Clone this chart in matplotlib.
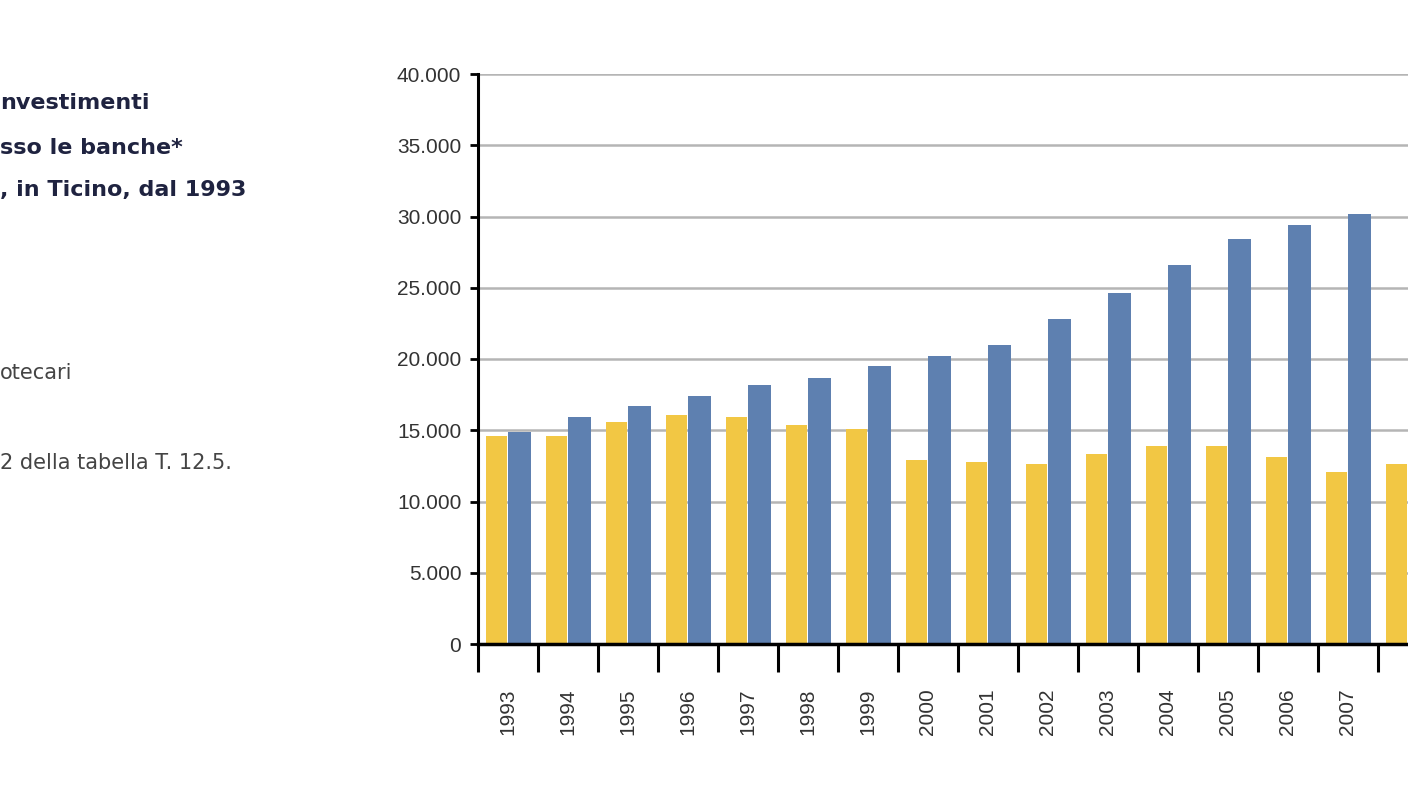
import numpy as np
import matplotlib.pyplot as plt

years = [str(y) for y in range(1993, 2009)]
ipotecari = [14600, 14600, 15600, 16100, 15900, 15400, 15100, 12900,
             12800, 12600, 13300, 13900, 13900, 13100, 12100, 12600]
investimenti = [14900, 15900, 16700, 17400, 18200, 18700, 19500, 20200,
                21000, 22800, 24600, 26600, 28400, 29400, 30200, 31000]
yticks = [0, 5000, 10000, 15000, 20000, 25000, 30000, 35000, 40000]
ylabels = ["0", "5.000", "10.000", "15.000", "20.000", "25.000",
           "30.000", "35.000", "40.000"]

W, H = 1408, 792
fig = plt.figure(figsize=(W / 100, H / 100), dpi=100)
ax = fig.add_axes([478 / W, 1 - 644 / H, (W - 478) / W, (644 - 74) / H])

x = np.arange(len(years))
ax.bar(x - 0.19, ipotecari, width=0.36, color="#F2C744")
ax.bar(x + 0.19, investimenti, width=0.38, color="#5E80B0")

ax.set_xlim(-0.5, 14.72)
ax.set_ylim(0, 40000)
ax.set_yticks(yticks)
ax.set_yticklabels(ylabels, fontsize=15, color="#333333", fontfamily="Liberation Sans")
ax.yaxis.grid(True, color="#b5b5b5", linewidth=1.8)
ax.set_axisbelow(True)

# group boundaries as ticks, labels at centres (2008 label is cut off in the source)
ax.set_xticks(x - 0.5, minor=False)
ax.set_xticklabels([])
ax.tick_params(axis="x", which="major", length=20, width=2.2, color="black")
ax.set_xticks(x, minor=True)
ax.set_xticklabels(years[:-1] + [""], minor=True, rotation=90, fontsize=15,
                   color="#333333", fontfamily="Liberation Sans")
ax.tick_params(axis="x", which="minor", length=0, pad=32)
ax.tick_params(axis="y", length=6, width=2, color="black", pad=6)

for s in ["top", "right"]:
    ax.spines[s].set_visible(False)
ax.spines["left"].set_linewidth(2.2)
ax.spines["bottom"].set_linewidth(2.5)

navy = "#1f2340"
fig.text(0.0, 1 - 103 / H, "nvestimenti", fontsize=16, fontweight="bold",
         color=navy, va="center")
fig.text(0.0, 1 - 148 / H, "sso le banche*", fontsize=16, fontweight="bold",
         color=navy, va="center")
fig.text(0.0, 1 - 190 / H, ", in Ticino, dal 1993", fontsize=16, fontweight="bold",
         color=navy, va="center")
fig.text(0.0, 1 - 373 / H, "otecari", fontsize=15, color="#444444", va="center")
fig.text(0.0, 1 - 463 / H, "2 della tabella T. 12.5.", fontsize=15,
         color="#444444", va="center")

fig.savefig("out.png", dpi=100)
